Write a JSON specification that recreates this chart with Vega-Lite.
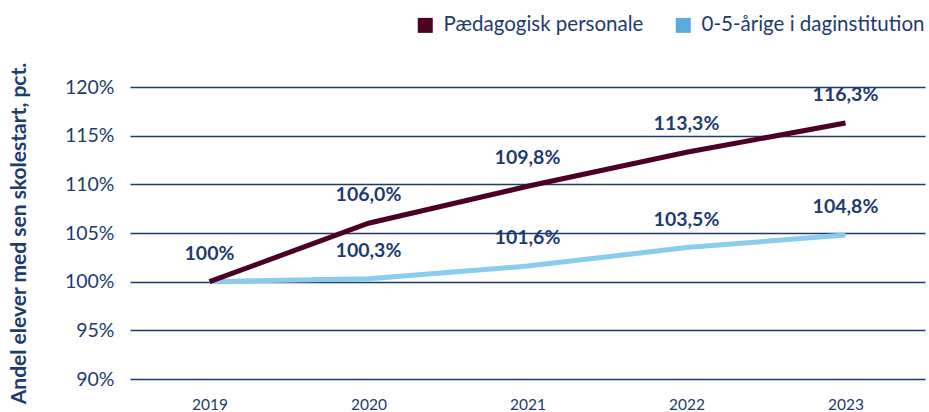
{
  "$schema": "https://vega.github.io/schema/vega-lite/v6.json",
  "width": 795,
  "height": 292,
  "autosize": {"type": "none"},
  "padding": {"left": 130, "top": 87, "right": 4, "bottom": 33},
  "background": "white",
  "config": {"view": {"stroke": null}, "font": "Lato"},
  "data": {
    "values": [
      {"year": "2019", "series": "0-5-årige i daginstitution", "value": 100, "label": ""},
      {"year": "2020", "series": "0-5-årige i daginstitution", "value": 100.3, "label": "100,3%"},
      {"year": "2021", "series": "0-5-årige i daginstitution", "value": 101.6, "label": "101,6%"},
      {"year": "2022", "series": "0-5-årige i daginstitution", "value": 103.5, "label": "103,5%"},
      {"year": "2023", "series": "0-5-årige i daginstitution", "value": 104.8, "label": "104,8%"},
      {"year": "2019", "series": "Pædagogisk personale", "value": 100, "label": "100%"},
      {"year": "2020", "series": "Pædagogisk personale", "value": 106.0, "label": "106,0%"},
      {"year": "2021", "series": "Pædagogisk personale", "value": 109.8, "label": "109,8%"},
      {"year": "2022", "series": "Pædagogisk personale", "value": 113.3, "label": "113,3%"},
      {"year": "2023", "series": "Pædagogisk personale", "value": 116.3, "label": "116,3%"}
    ]
  },
  "encoding": {
    "x": {
      "field": "year",
      "type": "ordinal",
      "scale": {"type": "point", "padding": 0.5},
      "axis": {
        "title": null,
        "domain": false,
        "ticks": false,
        "labelAngle": 0,
        "labelFontSize": 15.5,
        "labelColor": "#1d3b70",
        "labelPadding": 18
      }
    },
    "y": {
      "field": "value",
      "type": "quantitative",
      "scale": {"domain": [90, 120], "zero": false, "nice": false},
      "axis": {
        "values": [90, 95, 100, 105, 110, 115, 120],
        "grid": true,
        "gridColor": "#1c3a6e",
        "gridWidth": 1.5,
        "gridOpacity": 1,
        "domain": false,
        "ticks": false,
        "labelExpr": "datum.value + '%'",
        "labelFontSize": 19.5,
        "labelColor": "#1d3b70",
        "labelPadding": 16,
        "title": "Andel elever med sen skolestart, pct.",
        "titleFontSize": 21,
        "titleFontWeight": "bold",
        "titleColor": "#1d3b70",
        "titlePadding": 35
      }
    }
  },
  "layer": [
    {
      "mark": {"type": "line", "strokeWidth": 5, "strokeCap": "butt"},
      "encoding": {
        "color": {
          "field": "series",
          "type": "nominal",
          "scale": {
            "domain": ["Pædagogisk personale", "0-5-årige i daginstitution"],
            "range": ["#4b0026", "#8acbee"]
          },
          "legend": {
            "title": null,
            "orient": "none",
            "legendX": 285,
            "legendY": -72,
            "direction": "horizontal",
            "symbolType": "square",
            "symbolSize": 225,
            "symbolStrokeWidth": 0,
            "labelFontSize": 20.5,
            "labelColor": "#1d3b70",
            "labelOffset": 8,
            "columnPadding": 29,
            "padding": 0,
            "labelLimit": 400,
            "encode": {
              "symbols": {
                "update": {
                  "fill": [
                    {"test": "datum.label === '0-5-årige i daginstitution'", "value": "#5aaae0"},
                    {"value": "#4b0026"}
                  ],
                  "fillOpacity": {"value": 1},
                  "stroke": {"value": "transparent"}
                }
              }
            }
          }
        }
      }
    },
    {
      "mark": {"type": "text", "dy": -28, "fontWeight": "bold", "fontSize": 19.5, "color": "#1d3b70"},
      "encoding": {"text": {"field": "label"}}
    }
  ]
}
